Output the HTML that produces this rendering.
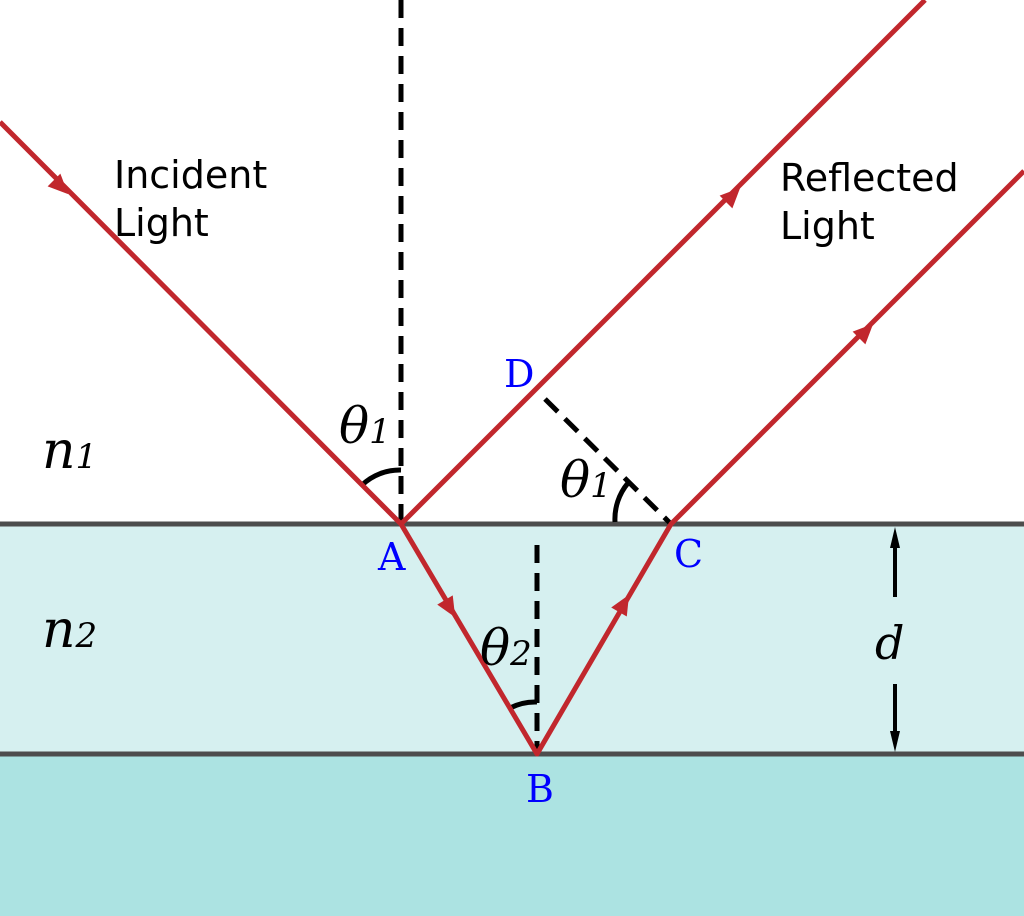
<!DOCTYPE html>
<html><head><style>html,body{margin:0;padding:0;background:#fff}svg{display:block}</style></head><body>
<svg width="1024" height="916" viewBox="0 0 1024 916" xmlns="http://www.w3.org/2000/svg">
<rect x="0" y="524" width="1024" height="230" fill="#d6f0f0"/>
<rect x="0" y="754" width="1024" height="162" fill="#ace3e2"/>
<line x1="0" y1="524" x2="1024" y2="524" stroke="#4d4d4d" stroke-width="5"/>
<line x1="0" y1="754" x2="1024" y2="754" stroke="#4d4d4d" stroke-width="5"/>
<g stroke="#000" stroke-width="5" stroke-dasharray="18,10" fill="none">
<line x1="401" y1="0" x2="401" y2="524"/>
<line x1="537" y1="545" x2="537" y2="754"/>
<line x1="545" y1="399" x2="671" y2="524"/>
</g>
<g stroke="#000" stroke-width="5" fill="none">
<path d="M362,485 A55,55 0 0 1 401,470"/>
<path d="M615,522 A56,56 0 0 1 628,483"/>
<path d="M510,708 A55,55 0 0 1 537,702"/>
<line x1="895" y1="545" x2="895" y2="597" stroke-width="4"/>
<line x1="895" y1="684" x2="895" y2="735" stroke-width="4"/>
</g>
<polygon points="895,527 890,548 900,548" fill="#000"/>
<polygon points="895,752 890,731 900,731" fill="#000"/>
<g stroke="#c1272d" stroke-width="5" fill="none" stroke-linejoin="round">
<polyline points="0,122 401,524 537,754 671,524 1024,171"/>
<line x1="401" y1="524" x2="925" y2="0"/>
</g>
<g fill="#c1272d">
<polygon points="0,-9 20,0 0,9" transform="translate(54,180) rotate(45)"/>
<polygon points="0,-9 20,0 0,9" transform="translate(726,202) rotate(-45)"/>
<polygon points="0,-9 20,0 0,9" transform="translate(859,338) rotate(-45)"/>
<polygon points="0,-9 20,0 0,9" transform="translate(445,600) rotate(59.4)"/>
<polygon points="0,-9 20,0 0,9" transform="translate(619,612) rotate(-59.8)"/>
</g>
<g font-family="'DejaVu Sans',sans-serif" font-size="38" fill="#000">
<text x="114" y="188">Incident</text><text x="114" y="236">Light</text>
<text x="780" y="191">Reflected</text><text x="780" y="239">Light</text>
</g>
<g font-family="'DejaVu Serif','Liberation Serif',serif" font-style="italic" fill="#000">
<text x="42" y="468" font-size="52">n<tspan font-size="34">1</tspan></text>
<text x="42" y="647" font-size="52">n<tspan font-size="34">2</tspan></text>
<text x="339" y="443" font-size="50">θ<tspan font-size="34">1</tspan></text>
<text x="560" y="497" font-size="50">θ<tspan font-size="34">1</tspan></text>
<text x="480" y="665" font-size="50">θ<tspan font-size="34">2</tspan></text>
<text x="875" y="659" font-size="46">d</text>
</g>
<g font-family="'DejaVu Serif','Liberation Serif',serif" font-size="38" fill="#0000ff">
<text x="504" y="387">D</text>
<text x="378" y="570">A</text>
<text x="674" y="567">C</text>
<text x="526" y="802">B</text>
</g>
</svg>
</body></html>
